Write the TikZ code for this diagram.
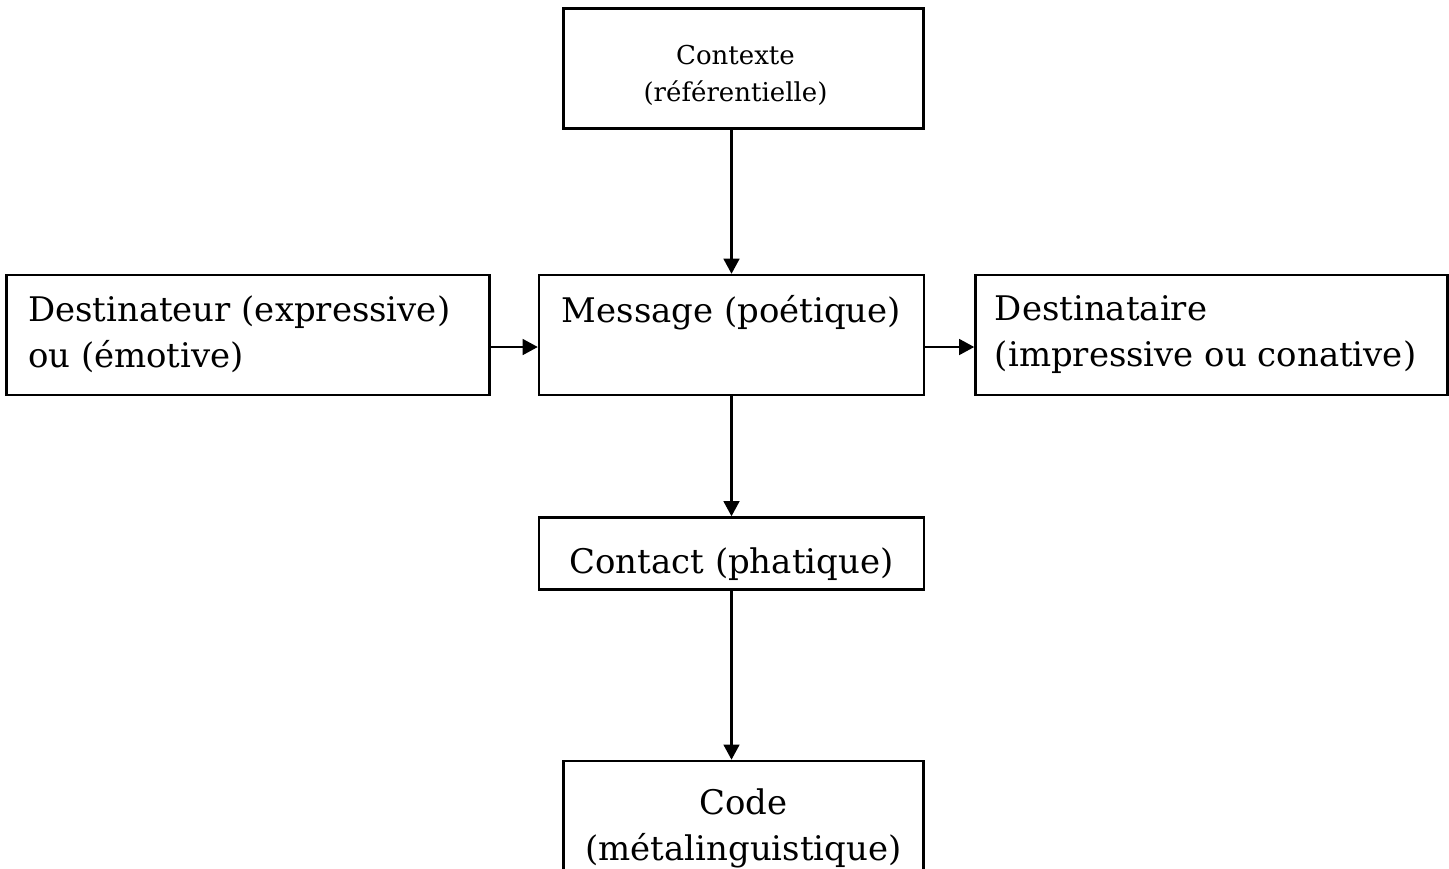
\documentclass[tikz,border=0pt]{standalone}
\usepackage{fontspec}
\setmainfont{DejaVu Serif}
\usetikzlibrary{positioning,arrows.meta}

\begin{document}
\begin{tikzpicture}[
	box/.style={draw, line width=0.7pt, inner sep=0pt, minimum height=1.2cm},
	txt/.style={inner sep=0pt, font=\fontsize{9.65}{13.1}\selectfont},
	smalltxt/.style={inner sep=0pt, font=\fontsize{7.4}{10.5}\selectfont},
	arr/.style={-{Triangle[length=4.3pt,width=4.5pt]}, line width=0.6pt},
	node distance=0.47cm
]
	\useasboundingbox (0,0) rectangle (14.49,-8.68);
	\clip (0,0) rectangle (14.49,-8.68);

	% boxes
	\node[box, minimum width=3.85cm] (msg) at (7.315,-3.35) {};
	\node[box, minimum width=4.83cm, left=of msg] (dst) {};
	\node[box, minimum width=4.72cm, right=0.49cm of msg] (dsr) {};
	\node[box, minimum width=3.6cm, above=1.44cm of msg, xshift=0.12cm] (ctx) {};
	\node[box, minimum width=3.85cm, minimum height=0.72cm, below=1.2cm of msg] (cnt) {};
	\node[box, minimum width=3.6cm, minimum height=1.32cm, below=1.69cm of cnt, xshift=0.12cm] (code) {};

	% texts
	\node[txt, align=left, below right=2.1mm and 2.2mm of dst.north west] (dsttxt) {Destinateur (expressive)\\ou (émotive)};
	\node[txt, below=2.1mm of msg.north] (msgtxt) {Message (poétique)};
	\node[txt, align=left, below right=2.1mm and 2mm of dsr.north west] (dsrtxt) {Destinataire\\(impressive ou conative)};
	\node[smalltxt, align=center, below=3.7mm of ctx.north, xshift=-0.08cm] (ctxtxt) {Contexte\\(référentielle)};
	\node[txt, below=3.1mm of cnt.north] (cnttxt) {Contact (phatique)};
	\node[txt, align=center, below=2.8mm of code.north] (codetxt) {Code\\(métalinguistique)};

	% arrows
	\draw[arr] (ctx.south -| msg.north) -- (msg.north);
	\draw[arr] (msg.south) -- (cnt.north);
	\draw[arr] (cnt.south) -- (code.north -| cnt.south);
	\draw[arr] ([yshift=-1.2mm]dst.east) -- ([yshift=-1.2mm]msg.west);
	\draw[arr] ([yshift=-1.2mm]msg.east) -- ([yshift=-1.2mm]dsr.west);
\end{tikzpicture}
\end{document}
